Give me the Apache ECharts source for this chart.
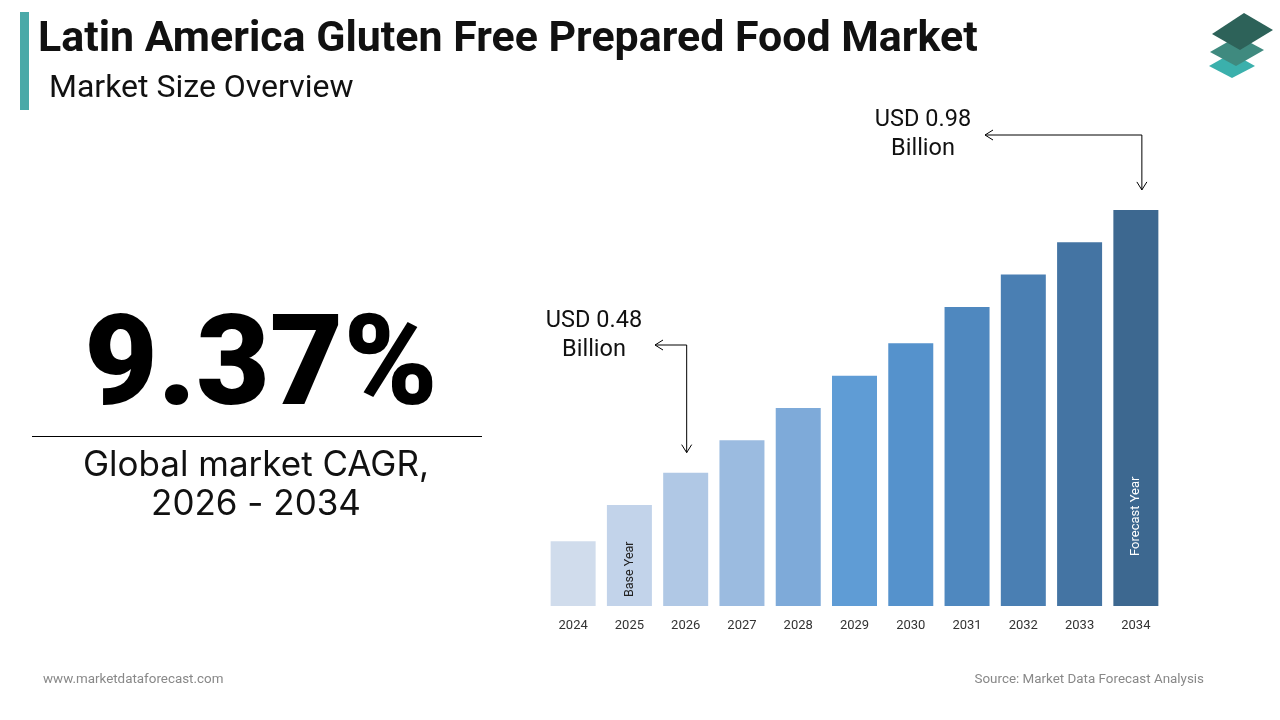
<!DOCTYPE html>
<html>
<head>
<meta charset="utf-8">
<script src="https://cdn.jsdelivr.net/npm/echarts@6/dist/echarts.min.js"></script>
<style>
html,body{margin:0;padding:0;background:#fff;}
#main{width:1280px;height:720px;}
</style>
</head>
<body>
<div id="main"></div>
<script>
// ---- data ----
var years = ['2024','2025','2026','2027','2028','2029','2030','2031','2032','2033','2034'];
var values = [0.16, 0.25, 0.33, 0.41, 0.49, 0.57, 0.65, 0.74, 0.82, 0.90, 0.98];
var barColors = ['#d0dcec','#c2d3ea','#b0c8e5','#9bbbe0','#7eaad9','#5f9cd5','#5592cc','#4f88bf','#4a7fb3','#4474a3','#3d6890'];
var titleText = 'Latin America Gluten Free Prepared Food Market';
var subtitleText = 'Market Size Overview';
var cagrText = '9.37%';
var cagrCaption = ['Global market CAGR,', '2026 - 2034'];
var startLabel = ['USD 0.48', 'Billion'];
var endLabel = ['USD 0.98', 'Billion'];
var footerLeft = 'www.marketdataforecast.com';
var footerRight = 'Source: Market Data Forecast Analysis';

var chart = echarts.init(document.getElementById('main'), null, {renderer:'canvas'});

var seriesData = values.map(function(v, i){
  var item = {value: v, itemStyle: {color: barColors[i]}};
  if (years[i] === '2025') {
    item.label = {show: true, formatter: 'Base Year', position: 'insideBottom', rotate: 90,
      align: 'left', verticalAlign: 'middle', distance: 9, color: '#222', fontSize: 12.5, fontFamily: 'Roboto'};
  }
  if (years[i] === '2034') {
    item.label = {show: true, formatter: 'Forecast Year', position: 'insideBottom', rotate: 90,
      align: 'left', verticalAlign: 'middle', distance: 50, color: '#fff', fontSize: 13, fontFamily: 'Roboto'};
  }
  return item;
});

chart.setOption({
  animation: false,
  grid: {left: 545, width: 619, top: 121, bottom: 114},
  xAxis: {
    type: 'category', data: years,
    axisLine: {show: false}, axisTick: {show: false},
    axisLabel: {color: '#333', fontSize: 13, fontFamily: 'Roboto', margin: 13}
  },
  yAxis: {type: 'value', min: 0, max: 1.2, show: false, splitLine: {show: false}},
  series: [{type: 'bar', data: seriesData, barWidth: 45, label: {show: false}}]
});

function px(i){ return chart.convertToPixel({seriesIndex:0}, [i, values[i]]); }

function arrowGroup(barIdx, hY, hLeftX, tipGap, xShift, lines, textCx, textY1, textY2){
  var p = px(barIdx);
  var vx = p[0] + xShift;
  var tipY = p[1] - tipGap;
  var els = [];
  els.push({type:'polyline', shape:{points:[[hLeftX, hY],[vx, hY],[vx, tipY]]}, style:{stroke:'#000', lineWidth:1, fill:null}});
  els.push({type:'polyline', shape:{points:[[hLeftX+8, hY-5],[hLeftX, hY],[hLeftX+8, hY+5]]}, style:{stroke:'#000', lineWidth:1, fill:null}});
  els.push({type:'polyline', shape:{points:[[vx-5, tipY-8],[vx, tipY],[vx+5, tipY-8]]}, style:{stroke:'#000', lineWidth:1, fill:null}});
  els.push({type:'text', x: textCx, y: textY1, style:{text: lines[0], font: '23.5px Roboto', fill:'#111', textAlign:'center', textVerticalAlign:'middle'}});
  els.push({type:'text', x: textCx, y: textY2, style:{text: lines[1], font: '23.5px Roboto', fill:'#111', textAlign:'center', textVerticalAlign:'middle'}});
  return els;
}

var graphics = [];
// header
graphics.push({type:'rect', shape:{x:20, y:12, width:9, height:98}, style:{fill:'#4aa9a8'}});
graphics.push({type:'text', x:38, y:40, style:{text:titleText, font:'bold 42.9px Roboto', fill:'#111', textVerticalAlign:'middle'}});
graphics.push({type:'text', x:49, y:89, style:{text:subtitleText, font:'32px Roboto', fill:'#111', textVerticalAlign:'middle'}});
// logo
graphics.push({type:'polygon', shape:{points:[[1209,66],[1232,53],[1255,66],[1232,78]]}, style:{fill:'#3bb0ac'}});
graphics.push({type:'polygon', shape:{points:[[1210,52],[1238,36],[1264,50],[1236,66]]}, style:{fill:'#3f8a7f'}});
graphics.push({type:'polygon', shape:{points:[[1212,34],[1244,13],[1273,30],[1240,50]]}, style:{fill:'#2d6259'}});
// CAGR block
graphics.push({type:'text', x:261, y:372, style:{text:cagrText, font:'900 127px Roboto', fill:'#000', textAlign:'center', textVerticalAlign:'middle'}});
graphics.push({type:'line', shape:{x1:32, y1:436.5, x2:482, y2:436.5}, style:{stroke:'#000', lineWidth:1}});
graphics.push({type:'text', x:256, y:465, style:{text:cagrCaption[0], font:'35px Inter', fill:'#111', textAlign:'center', textVerticalAlign:'middle'}});
graphics.push({type:'text', x:256, y:504, style:{text:cagrCaption[1], font:'35px Inter', fill:'#111', textAlign:'center', textVerticalAlign:'middle'}});
// annotations
graphics = graphics.concat(arrowGroup(2, 345, 655, 20, 1, startLabel, 594, 321, 350));
graphics = graphics.concat(arrowGroup(10, 135, 985, 20, 6, endLabel, 923, 120, 149));
// footer
graphics.push({type:'text', x:43, y:680, style:{text:footerLeft, font:'13.4px Roboto', fill:'#888', textVerticalAlign:'middle'}});
graphics.push({type:'text', x:1204, y:680, style:{text:footerRight, font:'13.4px Roboto', fill:'#888', textAlign:'right', textVerticalAlign:'middle'}});

chart.setOption({graphic: graphics});
</script>
</body>
</html>
